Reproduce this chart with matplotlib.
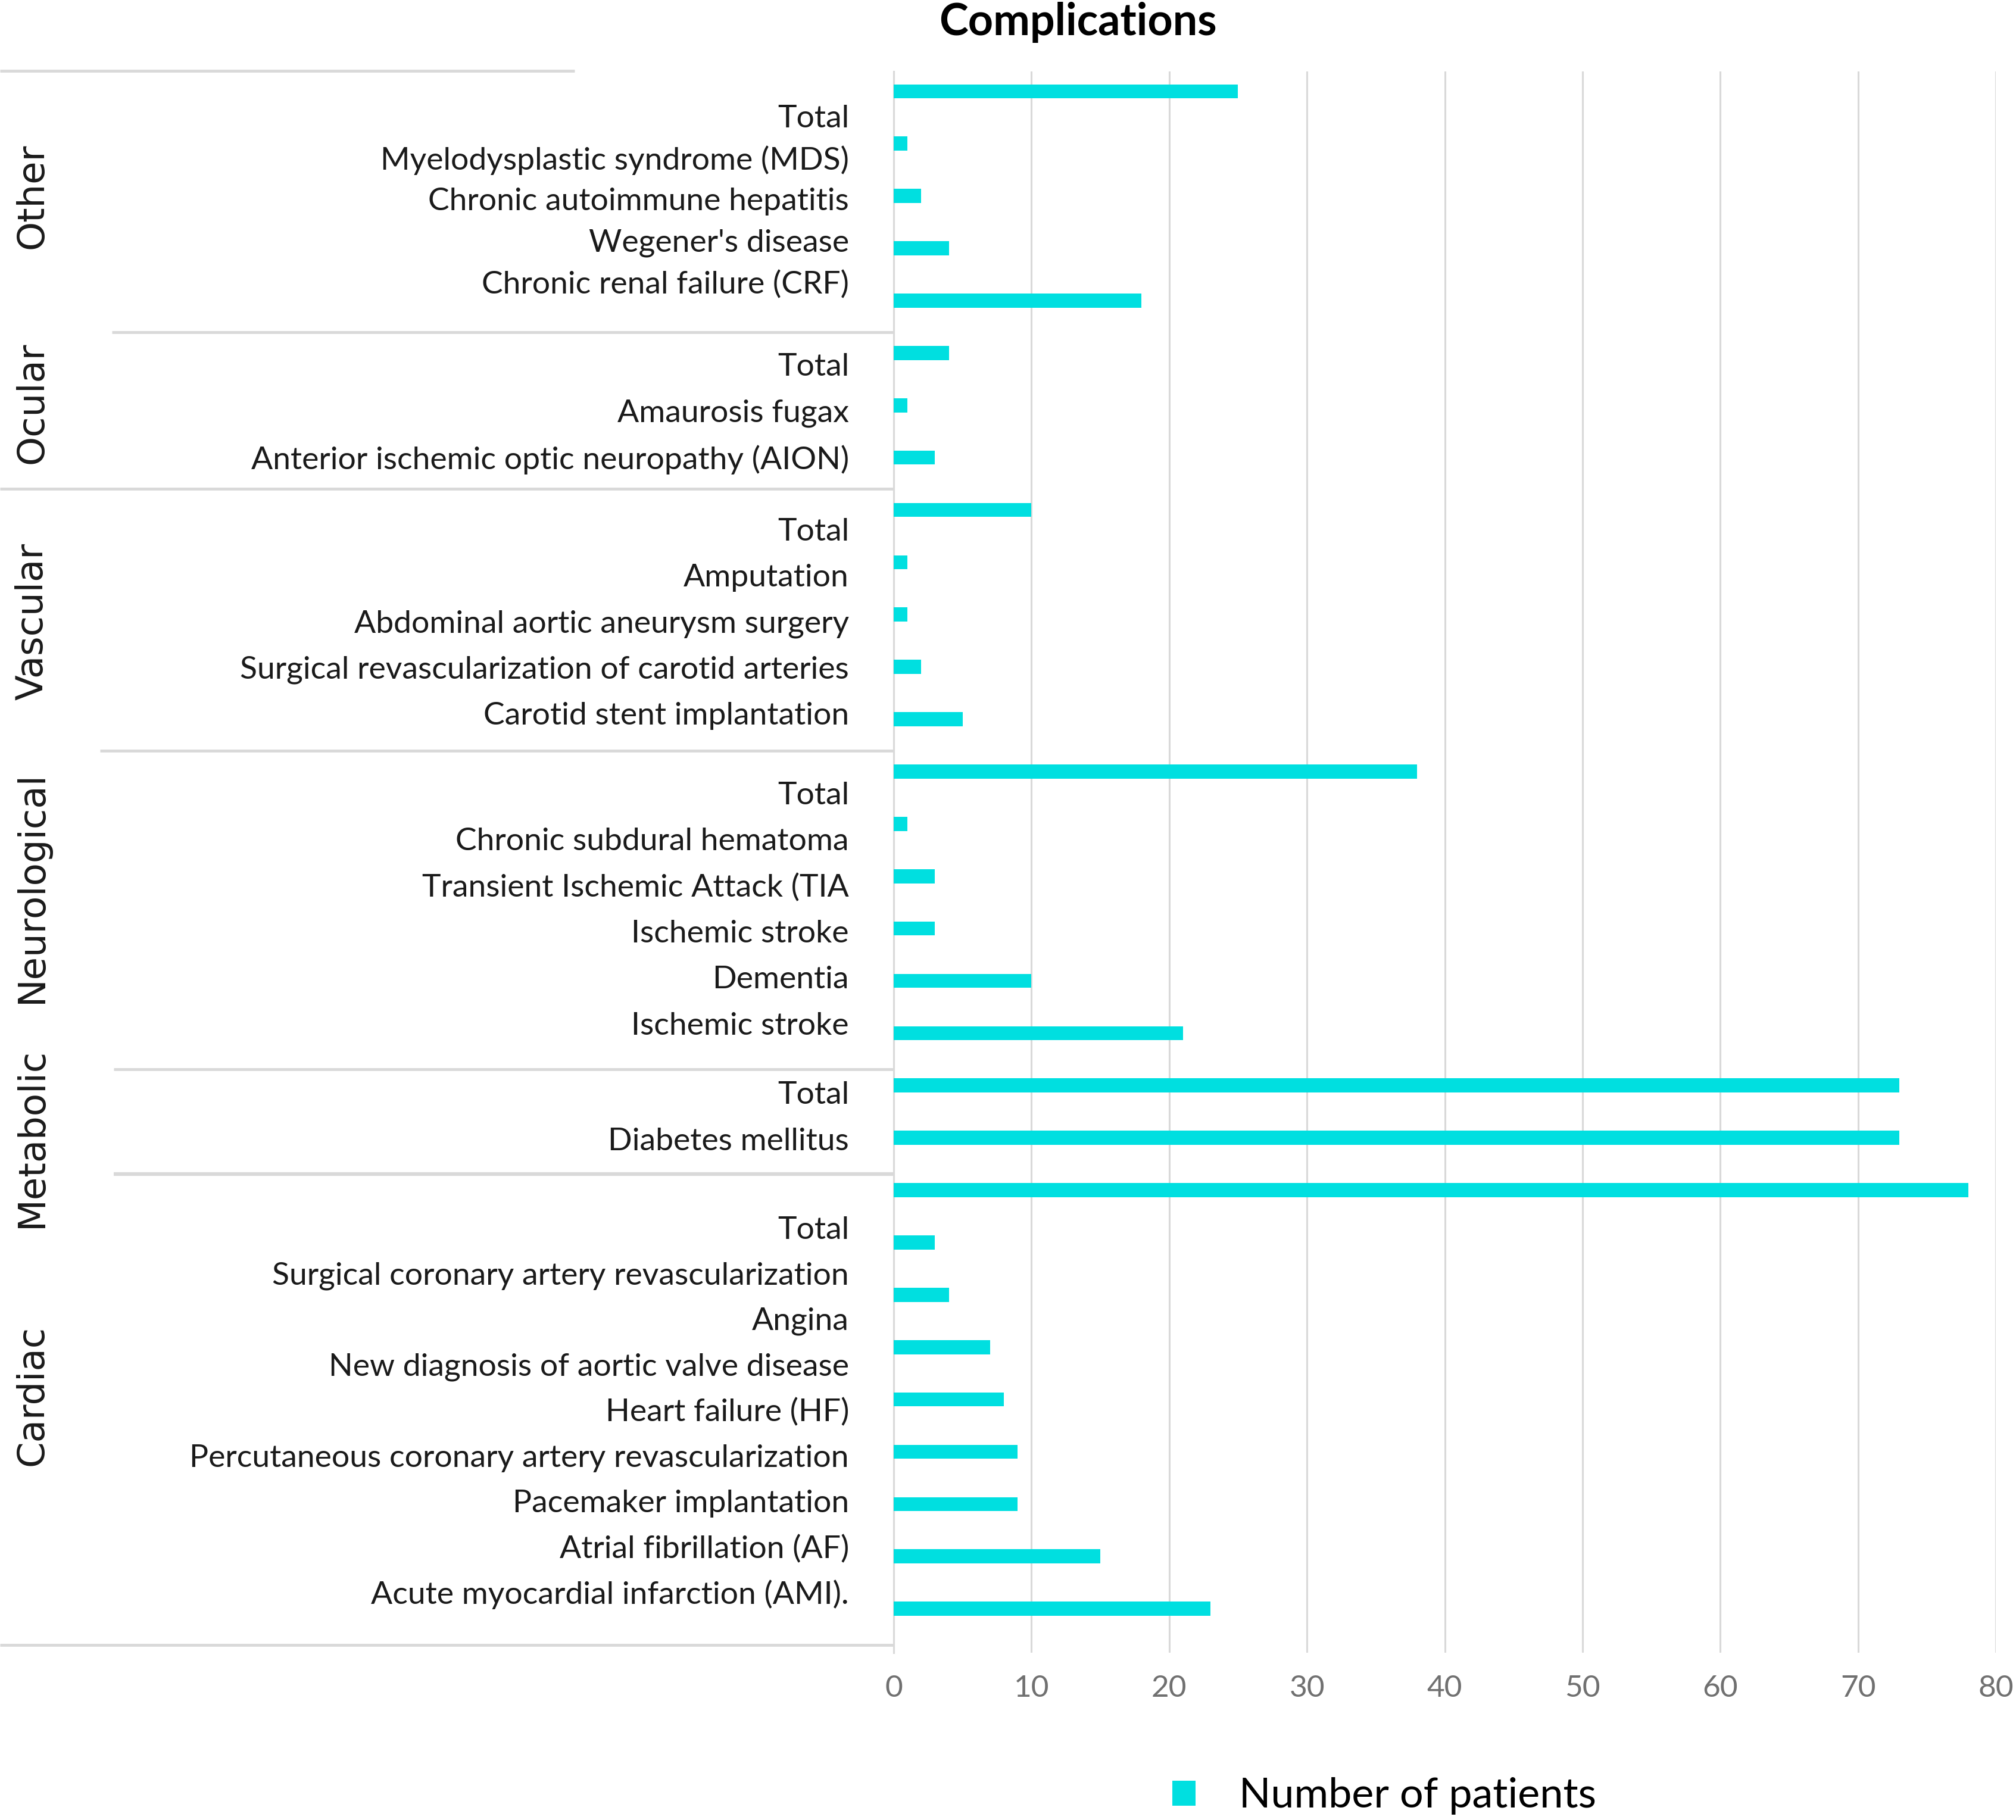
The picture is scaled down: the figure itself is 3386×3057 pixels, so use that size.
import matplotlib
matplotlib.use("Agg")
import matplotlib.pyplot as plt
from matplotlib.patches import Patch
import matplotlib.transforms as mtransforms

# ---------------- data ----------------
groups = ["Other", "Ocular", "Vascular", "Neurological", "Metabolic", "Cardiac"]

other_items = ["Total", "Myelodysplastic syndrome (MDS)", "Chronic autoimmune hepatitis",
               "Wegener's disease", "Chronic renal failure (CRF)"]
other_values = [25, 1, 2, 4, 18]

ocular_items = ["Total", "Amaurosis fugax", "Anterior ischemic optic neuropathy (AION)"]
ocular_values = [4, 1, 3]

vascular_items = ["Total", "Amputation", "Abdominal aortic aneurysm surgery",
                  "Surgical revascularization of carotid arteries", "Carotid stent implantation"]
vascular_values = [10, 1, 1, 2, 5]

neuro_items = ["Total", "Chronic subdural hematoma", "Transient Ischemic Attack (TIA",
               "Ischemic stroke", "Dementia", "Ischemic stroke"]
neuro_values = [38, 1, 3, 3, 10, 21]

metabolic_items = ["Total", "Diabetes mellitus"]
metabolic_values = [73, 73]

cardiac_items = ["Total", "Surgical coronary artery revascularization", "Angina",
                 "New diagnosis of aortic valve disease", "Heart failure (HF)",
                 "Percutaneous coronary artery revascularization", "Pacemaker implantation",
                 "Atrial fibrillation (AF)", "Acute myocardial infarction (AMI)."]
cardiac_values = [78, 3, 4, 7, 8, 9, 9, 15, 23]

x_ticks = [0, 10, 20, 30, 40, 50, 60, 70, 80]
title = "Complications"
legend_label = "Number of patients"

group_items = [other_items, ocular_items, vascular_items, neuro_items, metabolic_items, cardiac_items]
group_values = [other_values, ocular_values, vascular_values, neuro_values, metabolic_values, cardiac_values]

# ---------------- layout (label offsets reproduce the original's misaligned overlay) ----------------
label_offset = [0.53, 0.27, 0.42, 0.46, 0.18, 0.77]   # first label, relative to first bar of group
label_step = [0.79, 0.885, 0.88, 0.88, 0.89, 0.87]
cat_center_shift = [0.0, -0.05, 0.13, -0.29, 0.5, -0.08]  # shift of vertical group title from group middle
sep_start = [0.0, 0.125, 0.0, 0.112, 0.127, 0.127, 0.0]
sep_end = [0.643, 1, 1, 1, 1, 1, 1]

CYAN = "#00DFE0"
GRID = "#D9D9D9"
W, H = 3387, 3057
DPI = 100

fig = plt.figure(figsize=(W / DPI, H / DPI), dpi=DPI)
fig.patch.set_facecolor("white")

ax_left_px, ax_right_px = 1501, 3352
ax_top_px, ax_bot_px = 120, 2776
ax = fig.add_axes([ax_left_px / W, 1 - ax_bot_px / H,
                   (ax_right_px - ax_left_px) / W, (ax_bot_px - ax_top_px) / H])
lp = fig.add_axes([0, 1 - ax_bot_px / H, ax_left_px / W, (ax_bot_px - ax_top_px) / H], sharey=ax)
lp.axis("off")

# bars
all_values = [v for vals in group_values for v in vals]
ypos = list(range(len(all_values)))
ax.barh(ypos, all_values, height=0.27, color=CYAN, zorder=3)
ax.set_xlim(0, 80)
ax.set_ylim(len(all_values) - 1 + 0.84, -0.38)
ax.set_xticks(x_ticks)
ax.set_xticklabels([str(t) for t in x_ticks], fontsize=37, color="#707070", family="Lato")
ax.tick_params(axis="x", length=0, pad=27)
ax.set_yticks([])
ax.grid(axis="x", color=GRID, linewidth=2.2, zorder=0)
for s in ["top", "right", "bottom"]:
    ax.spines[s].set_visible(False)
ax.spines["left"].set_color(GRID)
ax.spines["left"].set_linewidth(2.2)

# left panel: group separators, item labels, group titles
trans = mtransforms.blended_transform_factory(lp.transAxes, lp.transData)
start = 0
seps = [start - 0.39]
for gi, (items, vals) in enumerate(zip(group_items, group_values)):
    n = len(items)
    for k, lab in enumerate(items):
        y = start + label_offset[gi] + label_step[gi] * k
        lp.text(0.950, y, lab, transform=trans, ha="right", va="center",
                fontsize=38.5, family="Lato", color="#1a1a1a")
    mid = start + (n - 1) / 2 + cat_center_shift[gi]
    lp.text(0.036, mid, groups[gi], transform=trans, ha="center", va="center",
            rotation=90, fontsize=45, family="DejaVu Sans", color="#1a1a1a")
    start += n
    seps.append(start - 0.4 + (0.09 if gi in (3, 4) else 0))
seps[-1] = start - 1 + 0.69
for i, y in enumerate(seps):
    lp.plot([sep_start[i], sep_end[i]], [y, y], transform=trans, color=GRID,
            linewidth=3.5 if i != 5 else 4.5, clip_on=False, solid_capstyle="butt")

# title
fig.text(1810 / W, 1 - 38 / H, title, ha="center", va="center",
         fontsize=53, fontweight="bold", family="Lato", color="black")

# legend
leg = fig.legend(handles=[Patch(facecolor=CYAN, edgecolor="none")], labels=[legend_label],
                 loc="center", bbox_to_anchor=(2325 / W, 1 - 3017 / H), frameon=False,
                 prop={"family": "Lato", "size": 50.5}, handlelength=0.55, handleheight=0.55,
                 handletextpad=1.04, borderpad=0)

fig.savefig("out.png", dpi=DPI, facecolor="white")
